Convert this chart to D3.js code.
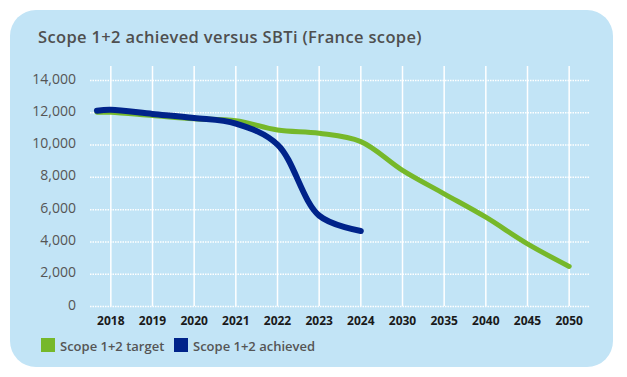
<!DOCTYPE html>
<html>
<head>
<meta charset="utf-8">
<script src="https://cdn.jsdelivr.net/npm/d3@7"></script>
<style>
  body { margin: 0; background: #fff; }
  svg { display: block; font-family: "Open Sans", sans-serif; }
</style>
</head>
<body>
<svg id="chart"></svg>
<script>
const width = 627;
const height = 377;

const years = ["2018", "2019", "2020", "2021", "2022", "2023", "2024", "2030", "2035", "2040", "2045", "2050"];
const yTicks = [0, 2000, 4000, 6000, 8000, 10000, 12000, 14000];
// both curves begin a little before the 2018 column
const targetStart = 12000;
const targetValues = [12000, 11800, 11600, 11480, 10900, 10700, 10180, 8400, 6950, 5500, 3850, 2450];
const achievedStart = 12100;
const achievedValues = [12150, 11900, 11650, 11300, 10000, 5600, 4650];
const seriesNames = ["Scope 1+2 target", "Scope 1+2 achieved"];
const seriesColors = ["#76b82a", "#00238a"];

const plotLeft = 90, plotRight = 590, plotTop = 80, plotBottom = 306;

const svg = d3.select("#chart").attr("width", width).attr("height", height);

// card
svg.append("rect")
  .attr("x", 10).attr("y", 10)
  .attr("width", 603).attr("height", 357)
  .attr("rx", 26)
  .attr("fill", "#c2e4f6");

svg.append("text")
  .attr("x", 38).attr("y", 43)
  .attr("fill", "#4f4f4f")
  .attr("font-size", 16.5)
  .attr("font-weight", 600)
  .attr("letter-spacing", 0.35)
  .text("Scope 1+2 achieved versus SBTi (France scope)");

const x = d3.scaleBand().domain(years).range([plotLeft, plotRight]);
const y = d3.scaleLinear().domain([0, 14000]).range([plotBottom, plotTop]);
const xPos = d3.scaleLinear()
  .domain([0, years.length - 1])
  .range([x(years[0]) + x.bandwidth() / 2, x(years[years.length - 1]) + x.bandwidth() / 2]);

// horizontal dotted grid + y labels
const yAxis = svg.append("g")
  .attr("transform", `translate(${plotLeft},0)`)
  .call(d3.axisLeft(y).tickValues(yTicks).tickSize(-(plotRight - plotLeft)).tickPadding(14).tickFormat(d3.format(",")));
yAxis.select(".domain").remove();
yAxis.selectAll(".tick line")
  .attr("stroke", "#fff")
  .attr("stroke-width", 1.5)
  .attr("stroke-dasharray", "1.5,1");
yAxis.selectAll(".tick text")
  .attr("fill", "#555")
  .attr("font-size", 14)
  .attr("font-family", "Open Sans, sans-serif")
  .attr("dy", "0.22em");

// vertical white lines + year labels
const xAxis = svg.append("g")
  .attr("transform", `translate(0,${plotBottom})`)
  .call(d3.axisBottom(x).tickSize(-(plotBottom - 66)).tickPadding(10));
xAxis.select(".domain").remove();
xAxis.selectAll(".tick line")
  .attr("stroke", "#fff")
  .attr("stroke-width", 1.5);
xAxis.selectAll(".tick text")
  .attr("fill", "#1a1a1a")
  .attr("font-size", 12)
  .attr("font-weight", 700)
  .attr("font-family", "Open Sans, sans-serif");

const line = d3.line()
  .x(d => xPos(d.i))
  .y(d => y(d.v))
  .curve(d3.curveCatmullRom.alpha(0.5));

const targetPts = [{ i: -1 / 3, v: targetStart }].concat(targetValues.map((v, i) => ({ i, v })));
const achievedPts = [{ i: -1 / 3, v: achievedStart }].concat(achievedValues.map((v, i) => ({ i, v })));

svg.append("path")
  .datum(targetPts)
  .attr("d", line)
  .attr("fill", "none")
  .attr("stroke", seriesColors[0])
  .attr("stroke-width", 5)
  .attr("stroke-linecap", "round");

svg.append("path")
  .datum(achievedPts)
  .attr("d", line)
  .attr("fill", "none")
  .attr("stroke", seriesColors[1])
  .attr("stroke-width", 6)
  .attr("stroke-linecap", "round");

// legend
const legendX = [41, 174];
const legend = svg.selectAll(".legend")
  .data(seriesNames)
  .enter()
  .append("g")
  .classed("legend", true)
  .attr("transform", (d, i) => `translate(${legendX[i]},338)`);
legend.append("rect")
  .attr("width", 14).attr("height", 14)
  .attr("fill", (d, i) => seriesColors[i]);
legend.append("text")
  .attr("x", 19).attr("y", 13)
  .attr("fill", "#555")
  .attr("font-size", 13)
  .attr("font-weight", 600)
  .text(d => d);
</script>
</body>
</html>
